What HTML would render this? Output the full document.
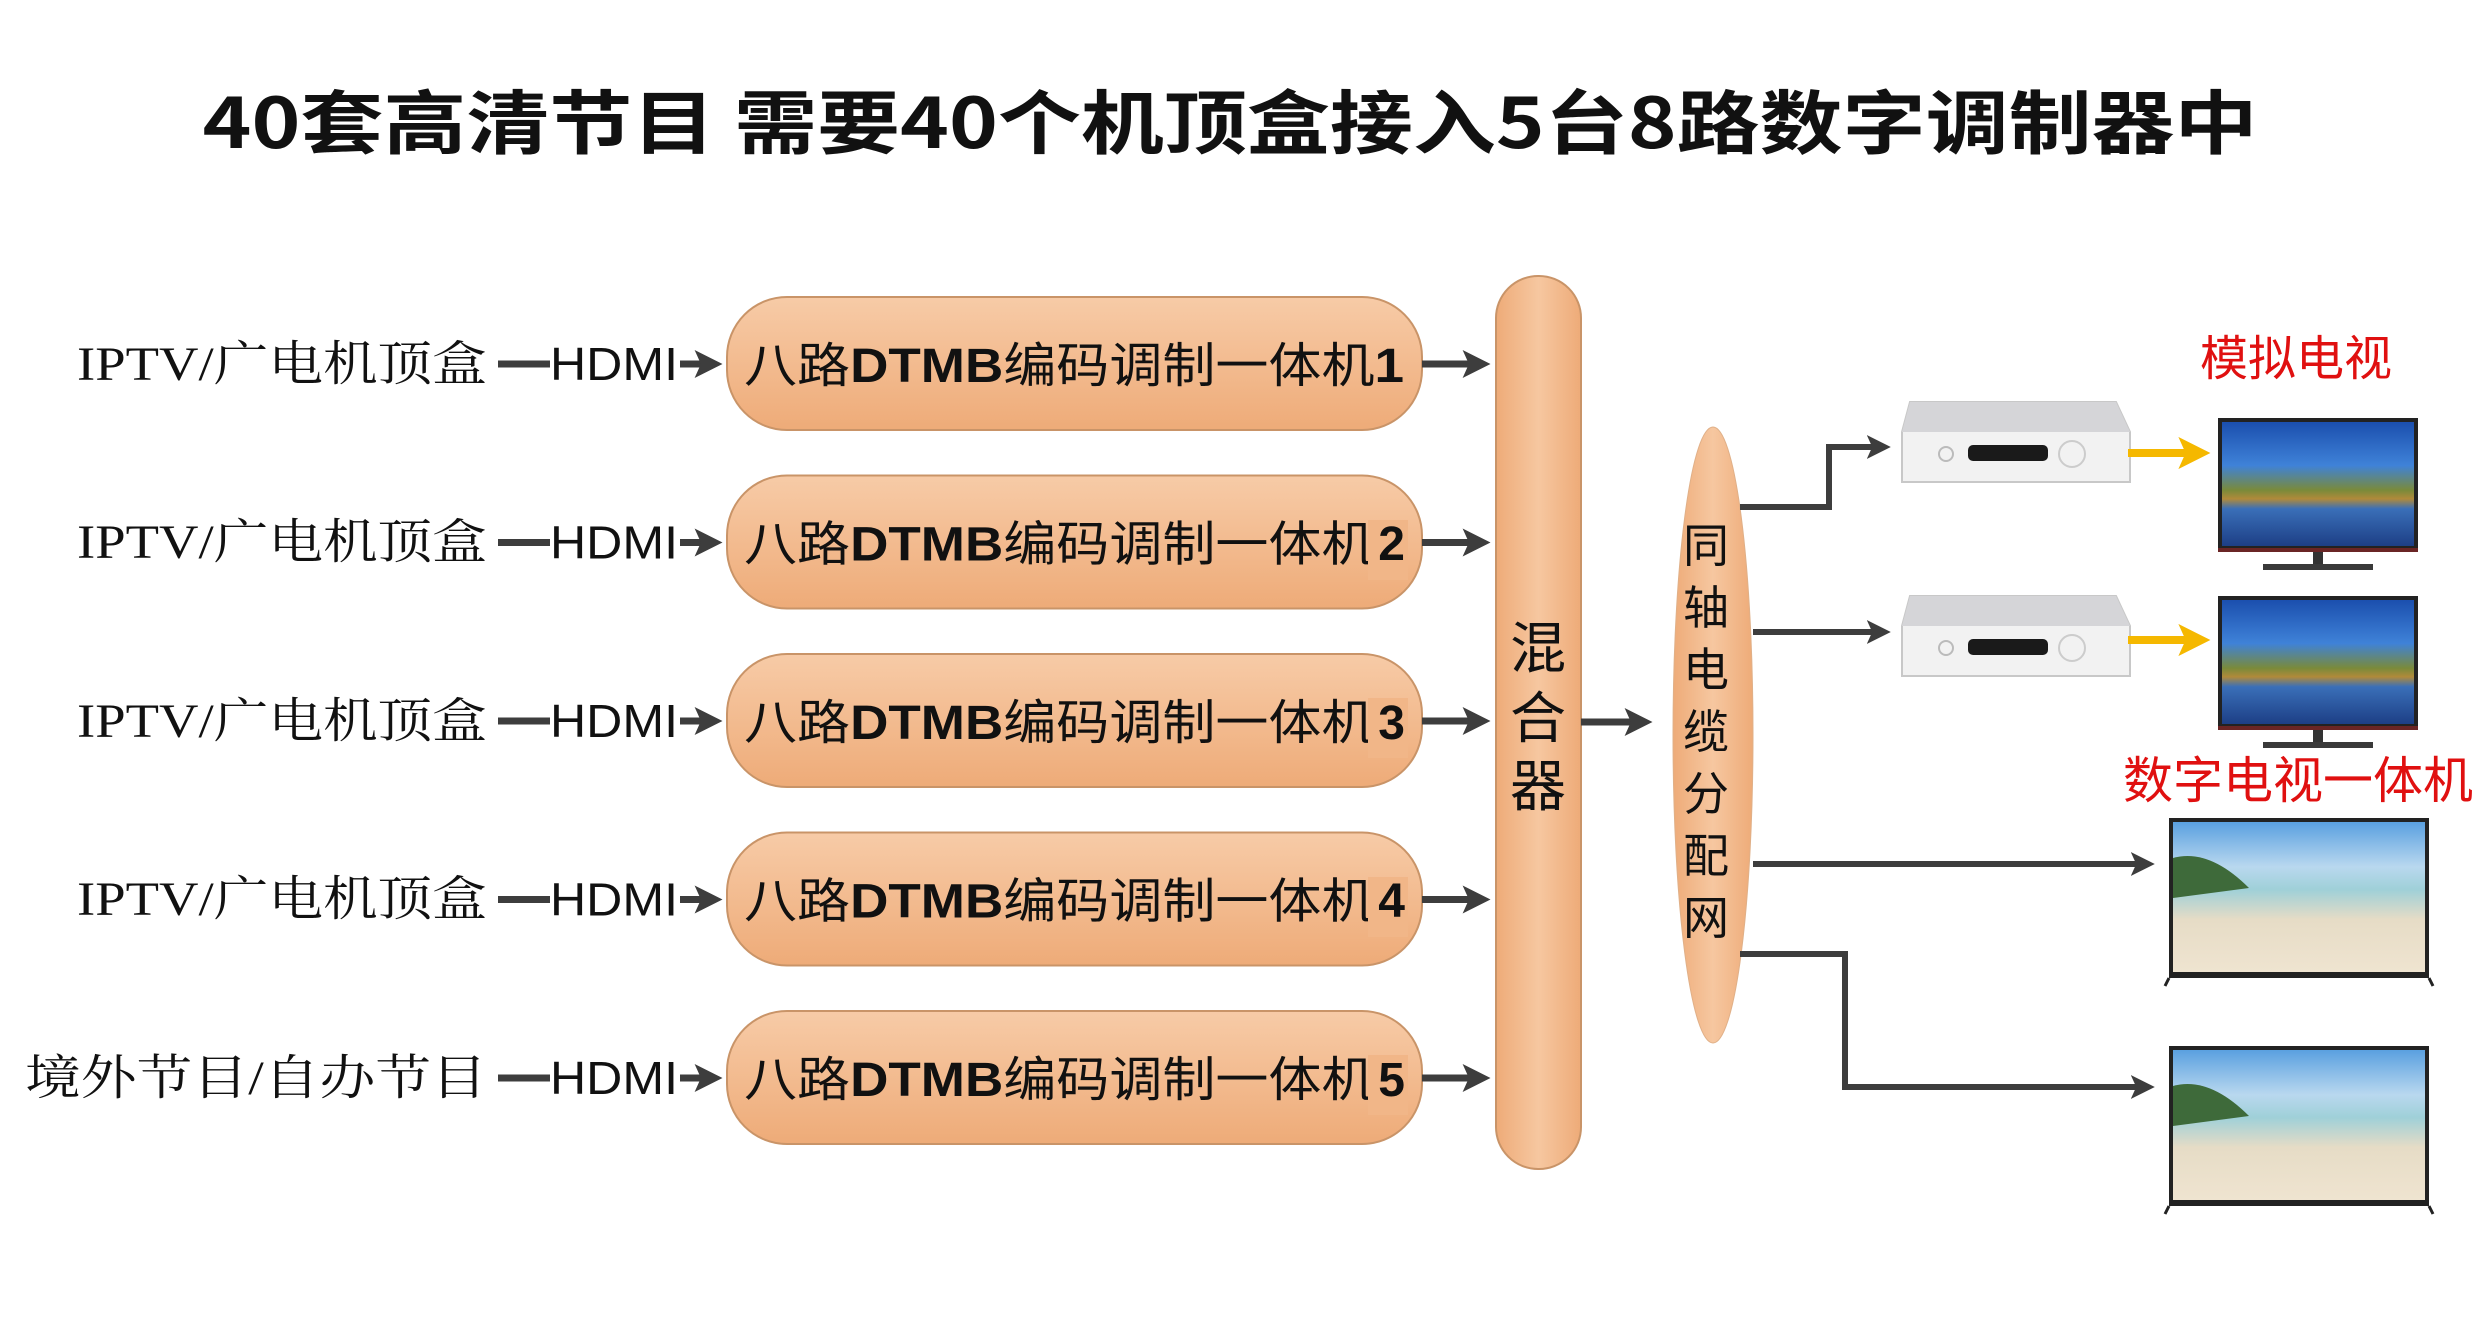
<!DOCTYPE html>
<html><head><meta charset="utf-8"><style>
html,body{margin:0;padding:0;background:#fff;}
svg{display:block;}
text{font-family:"Liberation Sans","Noto Sans CJK SC",sans-serif;}
</style></head><body>
<svg width="2477" height="1328" viewBox="0 0 2477 1328" xmlns="http://www.w3.org/2000/svg">
<defs>
<linearGradient id="pe" x1="0" y1="0" x2="0" y2="1"><stop offset="0" stop-color="#f7cba7"/><stop offset="1" stop-color="#eeab78"/></linearGradient>
<linearGradient id="pv" x1="0" y1="0" x2="1" y2="0"><stop offset="0" stop-color="#eeab78"/><stop offset="0.5" stop-color="#f6c7a0"/><stop offset="1" stop-color="#eeab78"/></linearGradient>
<linearGradient id="sky" x1="0" y1="0" x2="0" y2="1"><stop offset="0" stop-color="#1b4fae"/><stop offset="0.35" stop-color="#3f82d8"/><stop offset="0.55" stop-color="#7a8a3a"/><stop offset="0.62" stop-color="#b08a3a"/><stop offset="0.7" stop-color="#3a6fb8"/><stop offset="1" stop-color="#1d3f86"/></linearGradient>
<linearGradient id="beach" x1="0" y1="0" x2="0" y2="1"><stop offset="0" stop-color="#5aa0e0"/><stop offset="0.3" stop-color="#b9d8ef"/><stop offset="0.45" stop-color="#9fd0d8"/><stop offset="0.65" stop-color="#e6dcc6"/><stop offset="1" stop-color="#efe4d0"/></linearGradient>
<marker id="ah" markerWidth="4" markerHeight="4" refX="2.2" refY="2" orient="auto" markerUnits="strokeWidth"><path d="M0,0 L4,2 L0,4 L0.9,2 Z" fill="#3d3d3d"/></marker>
<marker id="ay" markerWidth="4" markerHeight="4" refX="2.2" refY="2" orient="auto" markerUnits="strokeWidth"><path d="M0,0 L4,2 L0,4 L0.9,2 Z" fill="#f5b800"/></marker>
<g id="stb">
<path d="M8,0 L214,0 L228,30 L228,80 L0,80 L0,30 Z" fill="#f2f2f2" stroke="#c8c8c8" stroke-width="2"/>
<path d="M8,0 L214,0 L228,30 L0,30 Z" fill="#d5d5d8"/>
<rect x="66" y="43" width="80" height="16" rx="5" fill="#1a1a1a"/>
<circle cx="44" cy="52" r="7" fill="none" stroke="#bbb" stroke-width="2"/>
<circle cx="170" cy="52" r="13" fill="none" stroke="#ccc" stroke-width="2"/>
</g>
<g id="tv1">
<rect x="0" y="0" width="200" height="134" fill="#222"/>
<rect x="4" y="4" width="192" height="124" fill="url(#sky)"/>
<rect x="0" y="130" width="200" height="4" fill="#6a2525"/>
<rect x="95" y="134" width="10" height="14" fill="#333"/>
<rect x="45" y="146" width="110" height="6" fill="#3a3a3a"/>
</g>
<g id="tv2">
<rect x="0" y="0" width="260" height="160" fill="#222"/>
<rect x="4" y="4" width="252" height="150" fill="url(#beach)"/>
<path d="M4,40 Q40,30 80,70 L4,80 Z" fill="#3e6a3a"/>
<path d="M0,160 L-4,168 M260,160 L264,168" stroke="#222" stroke-width="3"/>
</g>
</defs>

<text x="1230" y="0" text-anchor="middle" font-size="62" font-weight="bold" fill="#111" textLength="2055" lengthAdjust="spacingAndGlyphs" transform="translate(0,148) scale(1,1.12)" style="font-family:'Noto Sans CJK SC','Liberation Sans',sans-serif;">40套高清节目  需要40个机顶盒接入5台8路数字调制器中</text>

<g font-size="48" fill="#111">
<text x="487" y="380" text-anchor="end" textLength="410" lengthAdjust="spacingAndGlyphs" style="font-family:'Liberation Serif','Noto Serif CJK SC',serif;">IPTV/广电机顶盒</text>
<text x="487" y="558" text-anchor="end" textLength="410" lengthAdjust="spacingAndGlyphs" style="font-family:'Liberation Serif','Noto Serif CJK SC',serif;">IPTV/广电机顶盒</text>
<text x="487" y="737" text-anchor="end" textLength="410" lengthAdjust="spacingAndGlyphs" style="font-family:'Liberation Serif','Noto Serif CJK SC',serif;">IPTV/广电机顶盒</text>
<text x="487" y="915" text-anchor="end" textLength="410" lengthAdjust="spacingAndGlyphs" style="font-family:'Liberation Serif','Noto Serif CJK SC',serif;">IPTV/广电机顶盒</text>
<text x="487" y="1094" text-anchor="end" textLength="462" lengthAdjust="spacingAndGlyphs" style="font-family:'Liberation Serif','Noto Serif CJK SC',serif;">境外节目/自办节目</text>
</g>

<g id="rows">
<g>
<line x1="498" y1="364" x2="550" y2="364" stroke="#3d3d3d" stroke-width="7"/>
<text x="550" y="380" font-size="46" fill="#111" textLength="128" lengthAdjust="spacingAndGlyphs">HDMI</text>
<line x1="680" y1="364" x2="710" y2="364" stroke="#3d3d3d" stroke-width="7" marker-end="url(#ah)"/>
<rect x="727" y="297" width="695" height="133" rx="60" fill="url(#pe)" stroke="#c99468" stroke-width="2"/>
<text x="1074" y="382" font-size="48" fill="#111" text-anchor="middle" textLength="660" lengthAdjust="spacingAndGlyphs">八路<tspan font-weight="bold">DTMB</tspan>编码调制一体机<tspan font-weight="bold">1</tspan></text>
<line x1="1422" y1="364" x2="1478" y2="364" stroke="#3d3d3d" stroke-width="7" marker-end="url(#ah)"/>
</g>
</g>
<use href="#rows" y="178.5"/>
<use href="#rows" y="357"/>
<use href="#rows" y="535.5"/>
<use href="#rows" y="714"/>
<!-- cover numbers -->
<g>
<rect x="1368" y="520" width="40" height="60" fill="#f1b688"/><text x="1405" y="560" font-size="48" font-weight="bold" text-anchor="end" fill="#111">2</text>
<rect x="1368" y="698" width="40" height="60" fill="#f1b688"/><text x="1405" y="739" font-size="48" font-weight="bold" text-anchor="end" fill="#111">3</text>
<rect x="1368" y="877" width="40" height="60" fill="#f1b688"/><text x="1405" y="917" font-size="48" font-weight="bold" text-anchor="end" fill="#111">4</text>
<rect x="1368" y="1055" width="40" height="60" fill="#f1b688"/><text x="1405" y="1096" font-size="48" font-weight="bold" text-anchor="end" fill="#111">5</text>
</g>

<rect x="1496" y="276" width="85" height="893" rx="42" fill="url(#pv)" stroke="#c99468" stroke-width="2"/>
<g font-size="56" fill="#111" text-anchor="middle"><text x="1538" y="668">混</text><text x="1538" y="738">合</text><text x="1538" y="806">器</text></g>
<line x1="1581" y1="722" x2="1640" y2="722" stroke="#3d3d3d" stroke-width="7" marker-end="url(#ah)"/>

<ellipse cx="1713" cy="735" rx="40" ry="308" fill="url(#pv)" stroke="#e0b088" stroke-width="1"/>
<g font-size="46" fill="#111" text-anchor="middle">
<text x="1706" y="562">同</text><text x="1706" y="624">轴</text><text x="1706" y="686">电</text><text x="1706" y="748">缆</text><text x="1706" y="810">分</text><text x="1706" y="872">配</text><text x="1706" y="934">网</text>
</g>

<g fill="none" stroke="#3d3d3d" stroke-width="6" marker-end="url(#ah)">
<polyline points="1740,507 1829,507 1829,447 1880,447"/>
<polyline points="1753,632 1880,632"/>
<polyline points="1753,864 2144,864"/>
<polyline points="1740,954 1845,954 1845,1087 2144,1087"/>
</g>

<use href="#stb" x="1902" y="402"/>
<use href="#stb" x="1902" y="596"/>
<line x1="2128" y1="453" x2="2196" y2="453" stroke="#f5b800" stroke-width="8" marker-end="url(#ay)"/>
<line x1="2128" y1="640" x2="2196" y2="640" stroke="#f5b800" stroke-width="8" marker-end="url(#ay)"/>
<use href="#tv1" x="2218" y="418"/>
<use href="#tv1" x="2218" y="596"/>
<text x="2296" y="375" font-size="48" fill="#e01010" text-anchor="middle">模拟电视</text>
<text x="2298" y="798" font-size="50" fill="#e01010" text-anchor="middle">数字电视一体机</text>
<use href="#tv2" x="2169" y="818"/>
<use href="#tv2" x="2169" y="1046"/>
</svg>
</body></html>
